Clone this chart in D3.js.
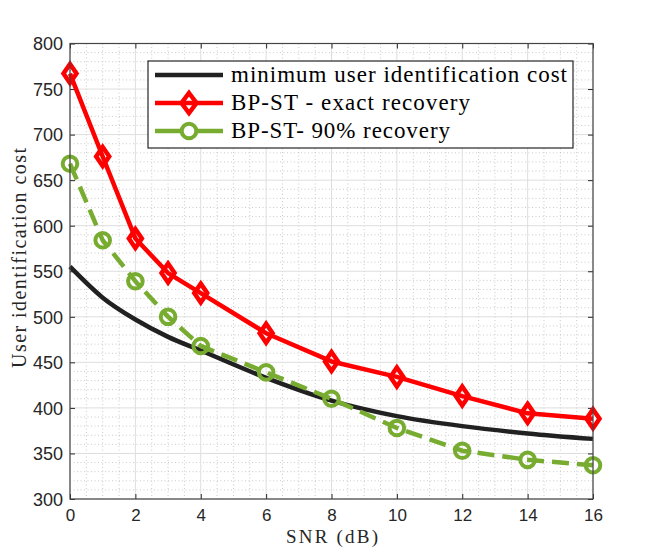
<!DOCTYPE html>
<html>
<head>
<meta charset="utf-8">
<script src="https://cdn.jsdelivr.net/npm/d3@7"></script>
<style>
  body { margin: 0; background: #fff; }
  svg { display: block; }
</style>
</head>
<body>
<svg id="chart"></svg>
<script>
// values
const snr = [0, 1, 2, 3, 4, 6, 8, 10, 12, 14, 16];
const minCost = [555, 521, 497, 478, 463, 433, 408, 391, 380, 372, 366];
const exactCost = [767, 676, 586, 548, 526, 482, 451, 434, 413, 394, 388];
const partialCost = [668, 584, 539, 500, 468, 439, 410, 378, 353, 343, 337];

const xTicks = [0, 2, 4, 6, 8, 10, 12, 14, 16];
const yTicks = [300, 350, 400, 450, 500, 550, 600, 650, 700, 750, 800];
const legendLabels = [
  'minimum user identification cost',
  'BP-ST - exact recovery',
  'BP-ST- 90% recovery',
];

const W = 658, H = 550;
const pLeft = 70, pRight = 593, pTop = 43.5, pBottom = 499;
const AX = '#262626';

const svg = d3.select('#chart').attr('width', W).attr('height', H);

const x = d3.scaleLinear().domain([0, 16]).range([pLeft, pRight]);
const y = d3.scaleLinear().domain([300, 800]).range([pBottom, pTop]);

// minor grid (dotted)
const grid = svg.append('g');
grid.selectAll('.mx')
  .data(d3.range(0, 16.01, 0.5).filter((v) => v % 2 !== 0))
  .enter().append('line')
  .attr('x1', (d) => x(d)).attr('x2', (d) => x(d))
  .attr('y1', pTop).attr('y2', pBottom)
  .attr('stroke', '#bdbdbd').attr('stroke-width', 0.8)
  .attr('stroke-dasharray', '1,2.5');
grid.selectAll('.my')
  .data(d3.range(300, 801, 10).filter((v) => v % 50 !== 0))
  .enter().append('line')
  .attr('x1', pLeft).attr('x2', pRight)
  .attr('y1', (d) => y(d)).attr('y2', (d) => y(d))
  .attr('stroke', '#bdbdbd').attr('stroke-width', 0.8)
  .attr('stroke-dasharray', '1,2.5');

// major grid
grid.selectAll('.gx').data(xTicks).enter().append('line')
  .attr('x1', (d) => x(d)).attr('x2', (d) => x(d))
  .attr('y1', pTop).attr('y2', pBottom)
  .attr('stroke', '#dedede').attr('stroke-width', 1);
grid.selectAll('.gy').data(yTicks).enter().append('line')
  .attr('x1', pLeft).attr('x2', pRight)
  .attr('y1', (d) => y(d)).attr('y2', (d) => y(d))
  .attr('stroke', '#dedede').attr('stroke-width', 1);

// axes, ticks pointing inward
const tickFont = (size) => (g) => g.selectAll('text')
  .attr('font-family', '"Liberation Sans", Arial, sans-serif')
  .attr('font-size', size).attr('fill', AX);

const xAxis = svg.append('g').attr('transform', `translate(0,${pBottom})`)
  .call(d3.axisBottom(x).tickValues(xTicks).tickSizeInner(-5).tickSizeOuter(0).tickPadding(10));
const yAxis = svg.append('g').attr('transform', `translate(${pLeft},0)`)
  .call(d3.axisLeft(y).tickValues(yTicks).tickSizeInner(-5).tickSizeOuter(0).tickPadding(7));
svg.append('g').attr('transform', `translate(0,${pTop})`)
  .call(d3.axisTop(x).tickValues(xTicks).tickSizeInner(-5).tickSizeOuter(0).tickFormat(''));
svg.append('g').attr('transform', `translate(${pRight},0)`)
  .call(d3.axisRight(y).tickValues(yTicks).tickSizeInner(-5).tickSizeOuter(0).tickFormat(''));
svg.selectAll('.domain').remove();
svg.selectAll('.tick line').attr('stroke', AX);
xAxis.call(tickFont(17));
yAxis.call(tickFont(18));
yAxis.selectAll('text').attr('dy', '0.35em');

// series
const line = d3.line().x((d) => x(d[0])).y((d) => y(d[1]));
const pts = (vals) => snr.map((s, i) => [s, vals[i]]);

svg.append('path').datum(pts(minCost))
  .attr('d', line.curve(d3.curveMonotoneX))
  .attr('fill', 'none').attr('stroke', '#212121').attr('stroke-width', 4.5);

line.curve(d3.curveLinear);
svg.append('path').datum(pts(exactCost))
  .attr('d', line)
  .attr('fill', 'none').attr('stroke', '#ff0000').attr('stroke-width', 4.5)
  .attr('stroke-linejoin', 'round');

const diamond = 'M0,-9.5L6.5,0L0,9.5L-6.5,0Z';
svg.append('g').selectAll('path').data(pts(exactCost)).enter().append('path')
  .attr('d', diamond)
  .attr('transform', (d) => `translate(${x(d[0])},${y(d[1])})`)
  .attr('fill', 'none').attr('stroke', '#ff0000').attr('stroke-width', 4.5);

svg.append('path').datum(pts(partialCost))
  .attr('d', line)
  .attr('fill', 'none').attr('stroke', '#77ac30').attr('stroke-width', 4.5)
  .attr('stroke-dasharray', '17,8');

svg.append('g').selectAll('circle').data(pts(partialCost)).enter().append('circle')
  .attr('cx', (d) => x(d[0])).attr('cy', (d) => y(d[1])).attr('r', 7.3)
  .attr('fill', 'none').attr('stroke', '#77ac30').attr('stroke-width', 4);

// axes box
svg.append('rect')
  .attr('x', pLeft).attr('y', pTop)
  .attr('width', pRight - pLeft).attr('height', pBottom - pTop)
  .attr('fill', 'none').attr('stroke', '#454545').attr('stroke-width', 1.2);

// stretch serif text to the width it has in the figure
function fitText(sel, width) {
  sel.attr('textLength', width).attr('lengthAdjust', 'spacing');
}

// axis labels
const xl = svg.append('text')
  .attr('x', (pLeft + pRight) / 2 + 0.5).attr('y', 543)
  .attr('text-anchor', 'middle')
  .attr('font-family', '"Liberation Serif", serif').attr('font-size', 19)
  .attr('fill', AX).text('SNR (dB)');
fitText(xl, 92);

const yl = svg.append('text')
  .attr('transform', 'translate(25.5,258) rotate(-90)')
  .attr('text-anchor', 'middle')
  .attr('font-family', '"Liberation Serif", serif').attr('font-size', 20)
  .attr('fill', AX).text('User identification cost');
fitText(yl, 220);

// legend
const lg = svg.append('g');
lg.append('rect')
  .attr('x', 148).attr('y', 61).attr('width', 425).attr('height', 87)
  .attr('fill', '#fff').attr('stroke', AX).attr('stroke-width', 1.2);

const rowY = [75, 103, 131];
const labelWidths = [336, 239, 219];
lg.selectAll('text').data(legendLabels).enter().append('text')
  .attr('x', 231).attr('y', (d, i) => rowY[i] + 7)
  .attr('font-family', '"Liberation Serif", serif').attr('font-size', 23)
  .attr('fill', '#000').text((d) => d)
  .each(function (d, i) { fitText(d3.select(this), labelWidths[i]); });

lg.append('line').attr('x1', 155).attr('x2', 223)
  .attr('y1', rowY[0]).attr('y2', rowY[0])
  .attr('stroke', '#212121').attr('stroke-width', 4.5);
lg.append('line').attr('x1', 155).attr('x2', 223)
  .attr('y1', rowY[1]).attr('y2', rowY[1])
  .attr('stroke', '#ff0000').attr('stroke-width', 4.5);
lg.append('path').attr('d', 'M0,-10L7.5,0L0,10L-7.5,0Z')
  .attr('transform', `translate(189,${rowY[1]})`)
  .attr('fill', 'none').attr('stroke', '#ff0000').attr('stroke-width', 4.5);
lg.append('line').attr('x1', 155).attr('x2', 223)
  .attr('y1', rowY[2]).attr('y2', rowY[2])
  .attr('stroke', '#77ac30').attr('stroke-width', 4.5)
  .attr('stroke-dasharray', '27,14,27');
lg.append('circle').attr('cx', 189).attr('cy', rowY[2]).attr('r', 7.3)
  .attr('fill', 'none').attr('stroke', '#77ac30').attr('stroke-width', 4);
</script>
</body>
</html>
